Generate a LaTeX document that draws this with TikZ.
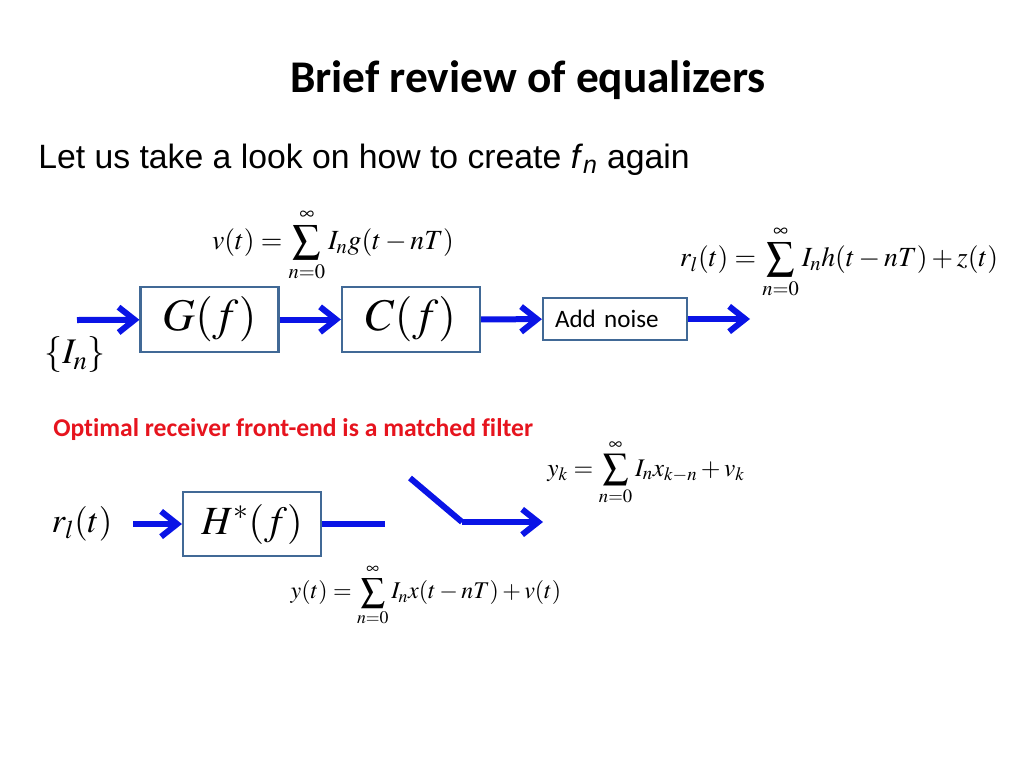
\documentclass[tikz,border=0pt]{standalone}
\usepackage{mathptmx}
\usepackage{fontspec}
\setmainfont{Carlito}[Ligatures=NoCommon]
\newfontfamily\arialfont{Liberation Sans}
\usetikzlibrary{arrows.meta}
\usetikzlibrary{positioning}
\definecolor{arrow-blue}{RGB}{10, 20, 230}
\definecolor{box-blue}{RGB}{65, 105, 150}
\definecolor{title-red}{RGB}{230, 20, 30}

\begin{document}
\begin{tikzpicture}[x=0.75pt, y=-0.75pt,
        blk/.style={draw=box-blue, line width=1.6pt, minimum width=103.5pt, minimum height=48.75pt, font=\fontsize{34}{34}\selectfont},
        flow/.style={draw=arrow-blue, line width=4.5pt, -{Straight Barb[length=12pt, width=19pt, line width=4.5pt]}},
        wire/.style={draw=arrow-blue, line width=4.5pt},
        eqn/.style={inner sep=0pt}]
    \useasboundingbox (0, 0) rectangle (1024, 768);
    \node (title) at (528, 80) {\fontsize{34}{38}\selectfont\bfseries Brief review of equalizers};
    \node[anchor=west, inner sep=0pt] (intro) at (38, 160) {\arialfont\fontsize{25.3}{28}\selectfont Let us take a look on how to create \textit{f}\textsubscript{\textit{n}} again};

    % transmitter chain
    \node[blk] (G) at (209.5, 319.5) {$G(f)$};
    \node[blk] (C) at (411, 319.5) {$C(f)$};
    \node[draw=box-blue, line width=1.6pt, inner xsep=9pt, text width=90pt, minimum height=31.5pt, align=left, font=\fontsize{18.8}{20}\selectfont] (N) at (615, 319) {Add noise};
    \coordinate (in) at (77, 320);
    \coordinate (out) at (750, 319);
    \node[font=\fontsize{27}{29}\selectfont] (In) at (75, 355) {$\{I_n\}$};
    \node[eqn, font=\fontsize{20.8}{22}\selectfont] (veq) at (333, 245) {$v(t) = \displaystyle\sum_{n=0}^{\infty} I_n g(t-nT)$};
    \node[eqn, font=\fontsize{20.8}{22}\selectfont] (req) at (839, 262) {$r_l(t) = \displaystyle\sum_{n=0}^{\infty} I_n h(t-nT) + z(t)$};
    \draw[flow] (in) -- (G);
    \draw[flow] (G) -- (C);
    \draw[flow] (C) -- (N);
    \draw[flow] (N.east) -- (out);

    % receiver front-end
    \node[anchor=west, inner sep=0pt, text=title-red, font=\fontsize{19.2}{21}\selectfont\bfseries] (opt) at (53, 430) {Optimal receiver front-end is a matched filter};
    \node[blk, minimum height=48pt, font=\fontsize{30}{32}\selectfont] (H) at (252, 524) {$H^{*}(f)$};
    \node[font=\fontsize{26}{28}\selectfont, inner sep=0pt] (rl) at (82, 524) {$r_l(t)$};
    \coordinate (rla) at (133, 524);
    \coordinate (hout) at (385, 524);
    \coordinate (sw) at (410, 478);
    \coordinate (swb) at (462, 522);
    \coordinate (yout) at (543, 522);
    \draw[flow] (rla) -- (H);
    \draw[wire] (H.east) -- (hout);
    \draw[wire, line join=round] (sw) -- (swb);
    \draw[flow] (swb) -- (yout);
    \node[eqn, font=\fontsize{19}{21}\selectfont] (ykeq) at (646, 472) {$y_k = \displaystyle\sum_{n=0}^{\infty} I_n x_{k-n} + v_k$};
    \node[eqn, font=\fontsize{18}{20}\selectfont] (yeq) at (426, 595) {$y(t) = \displaystyle\sum_{n=0}^{\infty} I_n x(t-nT) + v(t)$};
\end{tikzpicture}
\end{document}
